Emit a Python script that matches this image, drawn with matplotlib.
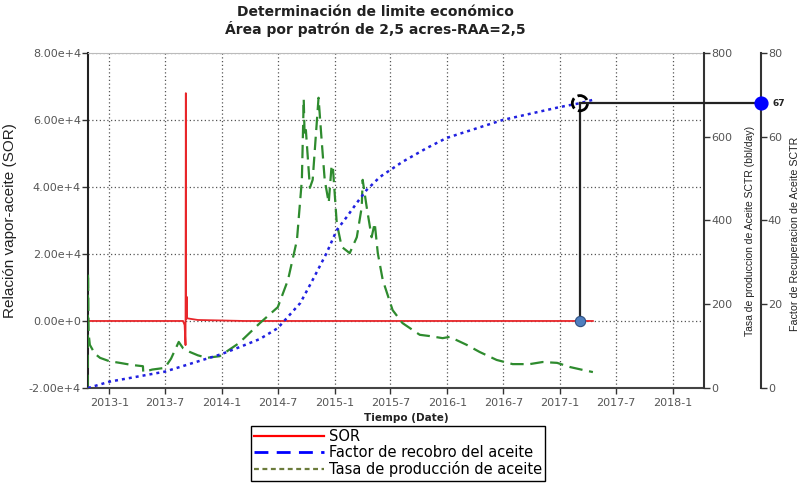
import matplotlib
matplotlib.use('Agg')
import matplotlib.pyplot as plt
import matplotlib.dates as mdates
import matplotlib.transforms as mtrans
from matplotlib.lines import Line2D
import pandas as pd

plt.rcParams['font.family'] = ['DejaVu Sans']

title = "Determinación de limite económico\nÁrea por patrón de 2,5 acres-RAA=2,5"

sor_dates = ['2012-10-24', '2013-08-28', '2013-09-02', '2013-09-05', '2013-09-06',
             '2013-09-07', '2013-09-09', '2013-09-10', '2013-10-15', '2014-03-15', '2017-04-17']
sor_values = [0, 0, -1200, -7200, 68000, 500, 7200, 800, 300, 0, 0]

rate_dates = ['2012-10-23', '2012-10-24', '2012-10-26', '2012-10-30', '2012-11-15', '2012-12-02',
              '2013-01-01', '2013-02-04', '2013-03-15', '2013-04-20', '2013-04-21', '2013-05-20',
              '2013-06-30', '2013-07-20', '2013-08-14', '2013-08-28', '2013-09-19', '2013-10-15',
              '2013-11-13', '2013-12-25', '2014-02-25', '2014-05-04', '2014-07-01', '2014-08-03',
              '2014-09-01', '2014-09-17', '2014-09-23', '2014-09-26', '2014-09-30', '2014-10-13',
              '2014-10-22', '2014-11-10', '2014-11-20', '2014-11-30', '2014-12-13', '2014-12-22',
              '2014-12-26', '2015-01-08', '2015-01-24', '2015-02-19', '2015-03-14', '2015-03-30',
              '2015-04-02', '2015-04-15', '2015-05-01', '2015-05-11', '2015-05-21', '2015-06-06',
              '2015-07-08', '2015-08-09', '2015-10-04', '2015-11-05', '2015-12-17', '2016-01-09',
              '2016-03-04', '2016-04-15', '2016-06-09', '2016-07-31', '2016-09-24', '2016-11-05',
              '2016-12-22', '2017-02-02', '2017-03-16', '2017-04-17']
rate_values = [0, 275, 130, 103, 82, 72,
               64, 60, 55, 52, 38, 44,
               48, 70, 110, 95, 86, 78,
               72, 76, 107, 155, 193, 258,
               353, 497, 690, 600, 616, 478,
               497, 693, 592, 497, 442, 528,
               532, 394, 337, 322, 360, 432,
               497, 432, 360, 394, 322, 258,
               186, 155, 127, 124, 119, 122,
               103, 86, 67, 57, 57, 62,
               60, 50, 43, 38]

rf_dates = ['2012-10-24', '2013-01-01', '2013-06-30', '2013-12-31', '2014-02-25', '2014-05-04',
            '2014-07-01', '2014-09-12', '2014-10-22', '2014-12-06', '2015-01-08', '2015-02-09',
            '2015-03-14', '2015-04-15', '2015-05-28', '2015-08-09', '2015-10-27', '2015-12-30',
            '2016-06-29', '2017-01-01', '2017-03-06', '2017-04-17']
rf_values = [0, 1.5, 3.9, 8.1, 9.7, 11.7,
             14.3, 20.3, 25.8, 32.2, 37.7, 40.8,
             44.2, 47.3, 50.4, 54.0, 57.3, 59.7,
             64.0, 67.1, 68.0, 68.8]

x_ticks = ['2013-01-01', '2013-07-01', '2014-01-01', '2014-07-01', '2015-01-01', '2015-07-01',
           '2016-01-01', '2016-07-01', '2017-01-01', '2017-07-01', '2018-01-01']
x_tick_labels = ['2013-1', '2013-7', '2014-1', '2014-7', '2015-1', '2015-7',
                 '2016-1', '2016-7', '2017-1', '2017-7', '2018-1']
x_range = ['2012-10-24', '2018-04-12']
sor_ticks = [-20000, 0, 20000, 40000, 60000, 80000]
sor_tick_labels = ['-2.00e+4', '0.00e+0', '2.00e+4', '4.00e+4', '6.00e+4', '8.00e+4']
rate_ticks = [0, 200, 400, 600, 800]
rf_ticks = [0, 20, 40, 60, 80]
limit_date = '2017-03-06'
limit_rf = 68.0
limit_label = '67'

legend_labels = ['SOR', 'Factor de recobro del aceite', 'Tasa de producción de aceite']

red = '#e8262a'
blue = '#2020e0'
green = '#2e8b2e'
gray_txt = '#555555'
rot_font = ['Liberation Sans', 'DejaVu Sans']

def dn(lst):
    return mdates.date2num(pd.to_datetime(lst))

fig = plt.figure(figsize=(8, 4.87), dpi=100)
ax = fig.add_axes([0.11, 0.2033, 0.77, 0.688])
ax2 = ax.twinx()
ax3 = ax.twinx()
ax3.spines['right'].set_position(('axes', 1.0925))

xmin, xmax = dn(x_range)
ax.set_xlim(xmin, xmax)
ax.set_ylim(sor_ticks[0], sor_ticks[-1])
ax2.set_ylim(rate_ticks[0], rate_ticks[-1])
ax3.set_ylim(rf_ticks[0], rf_ticks[-1])

ax.set_xticks(dn(x_ticks))
ax.set_xticklabels(x_tick_labels)
ax.set_yticks(sor_ticks)
ax.set_yticklabels(sor_tick_labels)
ax.grid(True, color='#555555', linestyle=(0, (1, 2)), linewidth=0.9)

ax2.set_yticks(rate_ticks)
ax3.set_yticks(rf_ticks)

ax.plot(dn(sor_dates), sor_values, color=red, lw=1.3, zorder=3)
ax2.plot(dn(rate_dates), rate_values, color=green, lw=1.6, linestyle=(0, (6, 3)), zorder=3)
ax3.plot(dn(rf_dates), rf_values, color=blue, lw=1.8, linestyle=(0, (1.2, 1.6)), zorder=3)

lx = dn([limit_date])[0]
frac_x = (lx - xmin) / (xmax - xmin)
sor_frac = (0 - sor_ticks[0]) / (sor_ticks[-1] - sor_ticks[0])
rf_at_sor0 = rf_ticks[0] + sor_frac * (rf_ticks[-1] - rf_ticks[0])
ax3.plot([lx, lx], [rf_at_sor0, limit_rf], color='#222222', lw=1.6, zorder=4)
blend = mtrans.blended_transform_factory(ax3.transAxes, ax3.transData)
ax3.plot([frac_x, 1.0925], [limit_rf, limit_rf], color='#222222', lw=1.6,
         transform=blend, clip_on=False, zorder=4)
ax3.scatter([lx], [limit_rf], s=120, facecolors='none', edgecolors='black',
            linewidths=2, linestyle=(0, (4, 1.5)), zorder=5)
ax3.scatter([lx], [rf_at_sor0], s=55, color='#4f7fbf', edgecolors='#2f4f7f',
            linewidths=0.8, zorder=6)
ax3.scatter([1.0925], [limit_rf], s=85, color='#0000ff', transform=blend,
            clip_on=False, zorder=6)
ax3.text(1.0925 + 0.018, limit_rf, limit_label, transform=blend, fontsize=6.5,
         fontweight='bold', va='center', ha='left', color='#222222')

ax.spines['top'].set_color('#bbbbbb')
ax.spines['right'].set_visible(False)
ax.spines['left'].set_color('#222222')
ax.spines['left'].set_linewidth(1.5)
ax.spines['bottom'].set_color('#444444')
ax.spines['bottom'].set_linewidth(1.5)
for a in (ax2, ax3):
    for s in ['top', 'left', 'bottom']:
        a.spines[s].set_visible(False)
    a.spines['right'].set_color('#333333')
    a.spines['right'].set_linewidth(1.5)
    a.tick_params(axis='y', direction='out', length=4, width=1, colors='#333333',
                  labelcolor=gray_txt, labelsize=8, pad=1)

ax.tick_params(axis='y', direction='out', length=4, width=1, colors='#333333',
               labelcolor=gray_txt, labelsize=8, pad=1)
ax.tick_params(axis='x', direction='out', length=4, width=1, colors='#333333',
               labelcolor=gray_txt, labelsize=8, pad=3)

ax.set_ylabel('Relación vapor-aceite (SOR)', fontsize=11, color='#222222', family=rot_font)
ax.yaxis.set_label_coords(-0.115, 0.5)
ax2.set_ylabel('Tasa de produccion de Aceite SCTR (bbl/day)', fontsize=7.5, color='#222222',
               family=rot_font)
ax2.yaxis.set_label_coords(1.0666, 0.47)
ax3.set_ylabel('Factor de Recuperacion de Aceite SCTR', fontsize=7.7, color='#222222',
               family=rot_font)
ax3.yaxis.set_label_coords(1.1396, 0.46)
ax.set_xlabel('Tiempo (Date)', fontsize=7.5, fontweight='bold', color='#222222')
ax.xaxis.set_label_coords(0.516, -0.075)

fig.suptitle(title, x=0.469, y=0.99, fontsize=10, fontweight='bold', color='#222222',
             linespacing=1.15)

handles = [Line2D([], [], color='#ff0000', lw=1.6),
           Line2D([], [], color='#0000ff', lw=2, linestyle=(0, (5, 3))),
           Line2D([], [], color='#6b7b3b', lw=1.6, linestyle=(0, (2.2, 1.6)))]
leg = fig.legend(handles, legend_labels, loc='center', bbox_to_anchor=(0.4975, 0.0695),
                 fontsize=10.5, handlelength=4.8, labelspacing=0.05, borderpad=0.25,
                 handletextpad=0.3, fancybox=False, edgecolor='black', framealpha=1)
leg.get_frame().set_linewidth(1.0)

fig.savefig('out.png', dpi=100)
